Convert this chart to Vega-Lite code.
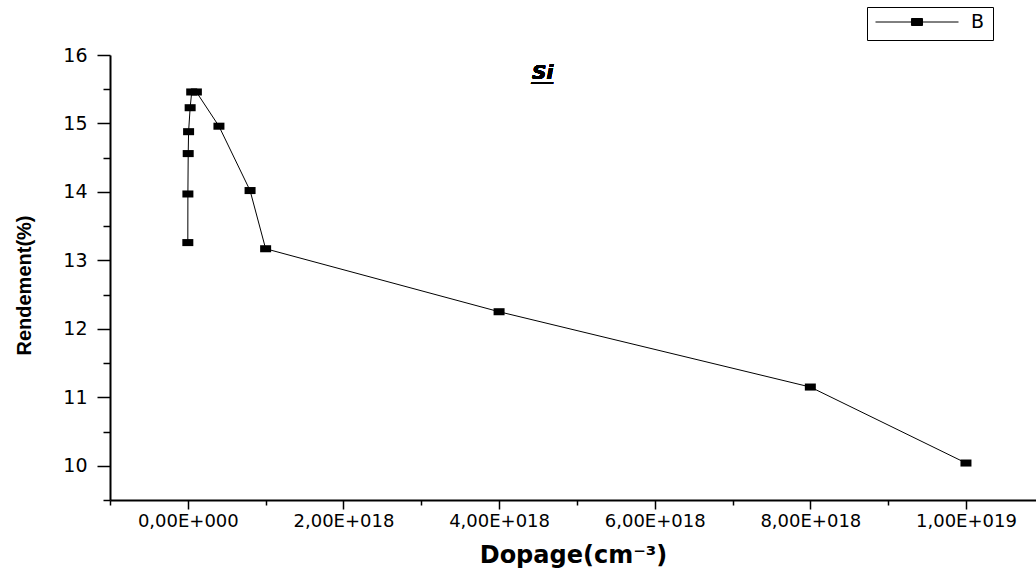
{
  "$schema": "https://vega.github.io/schema/vega-lite/v6.json",
  "width": 926,
  "height": 445,
  "autosize": {"type": "none"},
  "padding": {"left": 110, "top": 55, "right": 0, "bottom": 79},
  "background": "white",
  "config": {"view": {"stroke": null}, "axis": {"grid": false}},
  "data": {
    "values": [
      {"dopage": 1e14, "rendement": 13.26, "series": "B"},
      {"dopage": 1e15, "rendement": 13.97, "series": "B"},
      {"dopage": 5e15, "rendement": 14.56, "series": "B"},
      {"dopage": 1e16, "rendement": 14.88, "series": "B"},
      {"dopage": 3e16, "rendement": 15.23, "series": "B"},
      {"dopage": 5e16, "rendement": 15.46, "series": "B"},
      {"dopage": 1.1e17, "rendement": 15.46, "series": "B"},
      {"dopage": 4e17, "rendement": 14.96, "series": "B"},
      {"dopage": 8e17, "rendement": 14.02, "series": "B"},
      {"dopage": 1e18, "rendement": 13.17, "series": "B"},
      {"dopage": 4e18, "rendement": 12.25, "series": "B"},
      {"dopage": 8e18, "rendement": 11.15, "series": "B"},
      {"dopage": 1e19, "rendement": 10.04, "series": "B"}
    ]
  },
  "layer": [
    {
      "mark": {"type": "line", "color": "black", "strokeWidth": 1},
      "encoding": {
        "x": {
          "field": "dopage",
          "type": "quantitative",
          "scale": {"domain": [-1e18, 1.09e19], "nice": false, "zero": false},
          "axis": {
            "values": [-1e18, 0, 1e18, 2e18, 3e18, 4e18, 5e18, 6e18, 7e18, 8e18, 9e18, 1e19],
            "tickCount": 30,
            "labelExpr": "datum.value % 2e18 != 0 ? '' : (datum.value == 0 ? '0,00E+000' : replace(format(datum.value / pow(10, floor(log(datum.value) / LN10 + 1e-9)), '.2f'), '.', ',') + 'E+' + format(floor(log(datum.value) / LN10 + 1e-9), '03d'))",
            "title": "Dopage(cm⁻³)",
            "titleFont": "DejaVu Sans",
            "titleFontSize": 24,
            "titleFontWeight": "bold",
            "titleColor": "black",
            "titlePadding": 13,
            "labelFont": "DejaVu Sans",
            "labelFontSize": 18,
            "labelColor": "black",
            "labelPadding": 3,
            "labelFlush": false,
            "labelOverlap": false,
            "domainColor": "black",
            "domainWidth": 2,
            "tickColor": "black",
            "tickWidth": 1.5,
            "tickSize": 9,
            "tickDash": {"condition": {"test": "datum.value % 2e18 != 0", "value": [5, 100]}, "value": []}
          }
        },
        "y": {
          "field": "rendement",
          "type": "quantitative",
          "scale": {"domain": [9.5, 16], "nice": false, "zero": false},
          "axis": {
            "values": [9.5, 10, 10.5, 11, 11.5, 12, 12.5, 13, 13.5, 14, 14.5, 15, 15.5, 16],
            "tickCount": 30,
            "labelExpr": "round(datum.value * 2) % 2 == 0 ? format(datum.value, 'd') : ''",
            "title": "Rendement(%)",
            "titleFont": "Liberation Sans",
            "titleFontSize": 20,
            "titleFontWeight": "bold",
            "titleColor": "black",
            "titleX": -86,
            "titleY": 230,
            "titleBaseline": "middle",
            "labelFont": "DejaVu Sans",
            "labelFontSize": 19,
            "labelColor": "black",
            "labelPadding": 10,
            "labelOverlap": false,
            "labelFlush": false,
            "domainColor": "black",
            "domainWidth": 2,
            "tickColor": "black",
            "tickWidth": 1.5,
            "tickSize": 13,
            "tickDash": {"condition": {"test": "round(datum.value * 2) % 2 != 0", "value": [7, 100]}, "value": []}
          }
        }
      }
    },
    {
      "mark": {"type": "point", "filled": true, "opacity": 1, "shape": "M-1,-0.64H1V0.64H-1Z", "size": 121, "strokeWidth": 0},
      "encoding": {
        "x": {"field": "dopage", "type": "quantitative"},
        "y": {"field": "rendement", "type": "quantitative"},
        "color": {
          "field": "series",
          "type": "nominal",
          "scale": {"range": ["black"]},
          "legend": {
            "orient": "none",
            "legendX": 757,
            "legendY": -48,
            "title": null,
            "strokeColor": "black",
            "fillColor": "white",
            "padding": 8,
            "cornerRadius": 0,
            "clipHeight": 14,
            "labelFont": "DejaVu Sans",
            "labelFontSize": 19,
            "labelColor": "black",
            "labelOffset": 12,
            "symbolType": "M-1,0H1M-0.133,-0.084H0.133V0.084H-0.133Z",
            "symbolSize": 6889,
            "symbolStrokeWidth": 1,
            "symbolFillColor": "black",
            "symbolStrokeColor": "black"
          }
        }
      }
    },
    {
      "mark": {"type": "text", "text": "S̲i̲", "font": "DejaVu Sans", "fontSize": 20, "fontWeight": "bold", "fontStyle": "italic", "color": "black"},
      "encoding": {
        "x": {"datum": 4.56e18, "type": "quantitative"},
        "y": {"datum": 15.74, "type": "quantitative"}
      }
    }
  ]
}
